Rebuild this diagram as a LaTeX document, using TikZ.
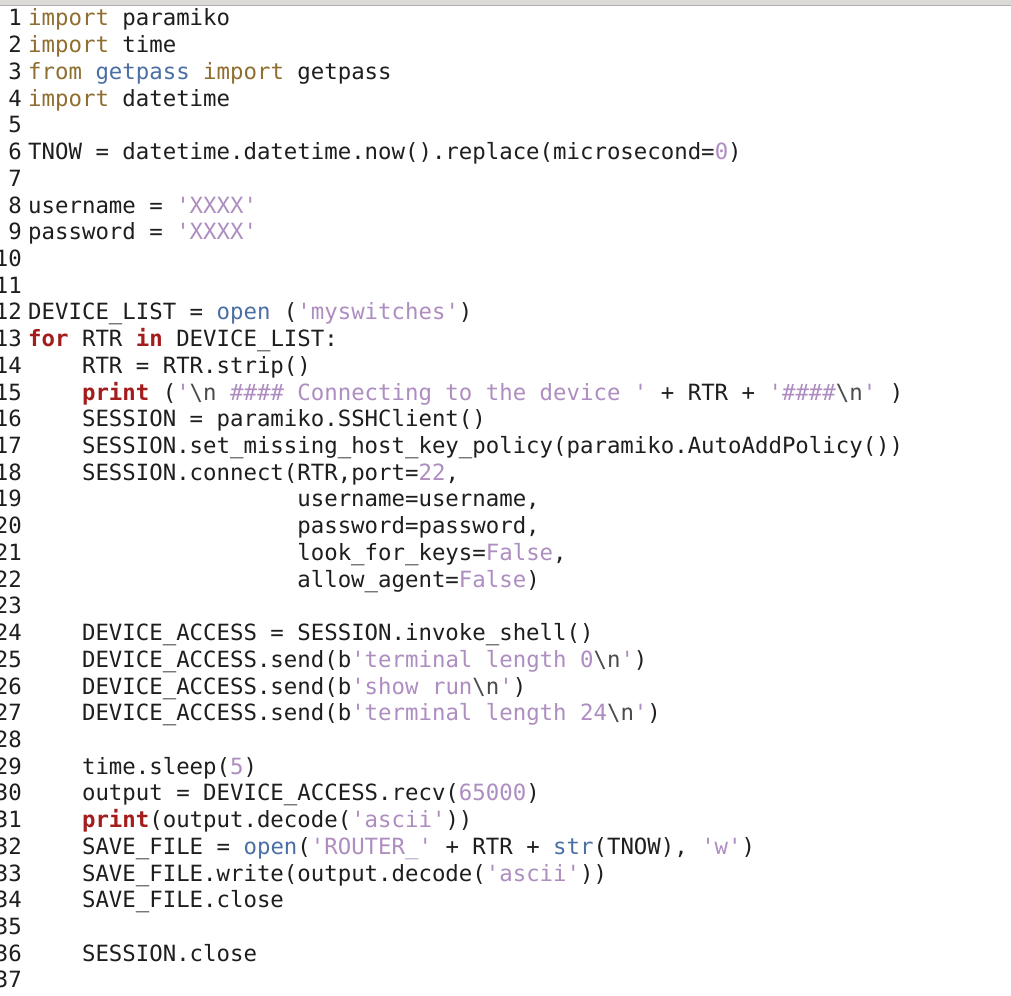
\documentclass[tikz,border=0pt]{standalone}
\usepackage{fontspec}
\setmonofont{DejaVu Sans Mono}
\definecolor{txt}{HTML}{1E1E1E}
\definecolor{impcol}{HTML}{8F6E30}
\definecolor{redcol}{HTML}{A41D1D}
\definecolor{blucol}{HTML}{4A6FA5}
\definecolor{strcol}{HTML}{AE8DC0}
\definecolor{barcol}{HTML}{DCDAD6}
\newcommand\kimp[1]{\textcolor{impcol}{#1}}
\newcommand\kred[1]{\textcolor{redcol}{\bfseries #1}}
\newcommand\kblue[1]{\textcolor{blucol}{#1}}
\newcommand\kstr[1]{\textcolor{strcol}{#1}}
\newcommand\kesc[1]{\textcolor{txt!80}{\textbackslash #1}}
\begin{document}
\begin{tikzpicture}[x=1pt,y=-1pt,
	font=\ttfamily\fontsize{22.36}{26.72}\selectfont,
	num/.style={anchor=base east,inner sep=0pt,text=txt},
	code/.style={anchor=base west,inner sep=0pt,text=txt}]
	\clip (0,0) rectangle (1011,995);
	\fill[white] (0,0) rectangle (1011,995);
	\fill[barcol] (0,0) rectangle (1011,5);
	\draw[barcol!80!black,line width=.8pt] (0,5)--(1011,5);
	% line numbers
	\foreach \i in {1,...,37}
		\node[num] (n\i) at (22,{26+26.72*(\i-1)}) {\i};
	% code
	\node[code] (c1) at ([xshift=6]n1.base east) {\kimp{import} paramiko};
	\node[code] (c2) at ([xshift=6]n2.base east) {\kimp{import} time};
	\node[code] (c3) at ([xshift=6]n3.base east) {\kimp{from} \kblue{getpass} \kimp{import} getpass};
	\node[code] (c4) at ([xshift=6]n4.base east) {\kimp{import} datetime};
	\node[code] (c6) at ([xshift=6]n6.base east) {TNOW = datetime.datetime.now().replace(microsecond=\kstr{0})};
	\node[code] (c8) at ([xshift=6]n8.base east) {username = \kstr{'XXXX'}};
	\node[code] (c9) at ([xshift=6]n9.base east) {password = \kstr{'XXXX'}};
	\node[code] (c12) at ([xshift=6]n12.base east) {DEVICE\_LIST = \kblue{open} (\kstr{'myswitches'})};
	\node[code] (c13) at ([xshift=6]n13.base east) {\kred{for} RTR \kred{in} DEVICE\_LIST:};
	\node[code] (c14) at ([xshift=59.84]n14.base east) {RTR = RTR.strip()};
	\node[code] (c15) at ([xshift=59.84]n15.base east) {\kred{print} (\kstr{'\kesc{n} \#\#\#\# Connecting to the device '} + RTR + \kstr{'\#\#\#\#\kesc{n}'} )};
	\node[code] (c16) at ([xshift=59.84]n16.base east) {SESSION = paramiko.SSHClient()};
	\node[code] (c17) at ([xshift=59.84]n17.base east) {SESSION.set\_missing\_host\_key\_policy(paramiko.AutoAddPolicy())};
	\node[code] (c18) at ([xshift=59.84]n18.base east) {SESSION.connect(RTR,port=\kstr{22},};
	\node[code] (c19) at ([xshift=275.2]n19.base east) {username=username,};
	\node[code] (c20) at ([xshift=275.2]n20.base east) {password=password,};
	\node[code] (c21) at ([xshift=275.2]n21.base east) {look\_for\_keys=\kstr{False},};
	\node[code] (c22) at ([xshift=275.2]n22.base east) {allow\_agent=\kstr{False})};
	\node[code] (c24) at ([xshift=59.84]n24.base east) {DEVICE\_ACCESS = SESSION.invoke\_shell()};
	\node[code] (c25) at ([xshift=59.84]n25.base east) {DEVICE\_ACCESS.send(b\kstr{'terminal length 0\kesc{n}'})};
	\node[code] (c26) at ([xshift=59.84]n26.base east) {DEVICE\_ACCESS.send(b\kstr{'show run\kesc{n}'})};
	\node[code] (c27) at ([xshift=59.84]n27.base east) {DEVICE\_ACCESS.send(b\kstr{'terminal length 24\kesc{n}'})};
	\node[code] (c29) at ([xshift=59.84]n29.base east) {time.sleep(\kstr{5})};
	\node[code] (c30) at ([xshift=59.84]n30.base east) {output = DEVICE\_ACCESS.recv(\kstr{65000})};
	\node[code] (c31) at ([xshift=59.84]n31.base east) {\kred{print}(output.decode(\kstr{'ascii'}))};
	\node[code] (c32) at ([xshift=59.84]n32.base east) {SAVE\_FILE = \kblue{open}(\kstr{'ROUTER\_'} + RTR + \kblue{str}(TNOW), \kstr{'w'})};
	\node[code] (c33) at ([xshift=59.84]n33.base east) {SAVE\_FILE.write(output.decode(\kstr{'ascii'}))};
	\node[code] (c34) at ([xshift=59.84]n34.base east) {SAVE\_FILE.close};
	\node[code] (c36) at ([xshift=59.84]n36.base east) {SESSION.close};
\end{tikzpicture}
\end{document}
